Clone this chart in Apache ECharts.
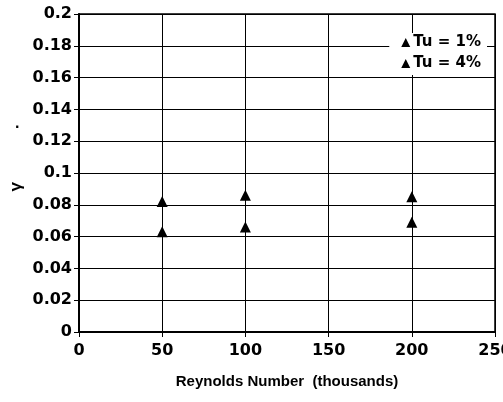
<!DOCTYPE html>
<html>
<head>
<meta charset="utf-8">
<script src="https://cdn.jsdelivr.net/npm/echarts@6/dist/echarts.min.js"></script>
<style>
html,body{margin:0;padding:0;background:#fff;}
#chart{width:503px;height:402px;}
</style>
</head>
<body>
<div id="chart"></div>
<script>
// Reynolds number (thousands) and intermittency values
const reynolds = [50, 100, 200];
const gammaTu1 = [0.063, 0.066, 0.069];
const gammaTu4 = [0.082, 0.086, 0.085];
const seriesNames = ['Tu = 1%', 'Tu = 4%'];

const tickFont = '"DejaVu Sans", sans-serif';
const titleFont = '"Liberation Sans", Arial, sans-serif';
const chart = echarts.init(document.getElementById('chart'));

chart.setOption({
  animation: false,
  backgroundColor: '#fff',
  grid: {
    left: 79, right: 8, top: 14, bottom: 70,
    containLabel: false,
    outerBoundsMode: 'none',
    show: true, borderColor: '#000', borderWidth: 1.5
  },
  legend: {
    data: [
      { name: seriesNames[0], itemStyle: { color: '#000', opacity: 1 } },
      { name: seriesNames[1], itemStyle: { color: '#000', opacity: 1 } }
    ],
    orient: 'vertical',
    right: 16, top: 33,
    backgroundColor: '#fff',
    padding: [2, 6, 4, 12],
    itemGap: 6,
    itemWidth: 9, itemHeight: 9,
    textStyle: { fontFamily: tickFont, fontWeight: 'bold', fontSize: 15, color: '#000', padding: [0, 0, 0, -2] }
  },
  xAxis: {
    type: 'value', min: 0, max: 250, interval: 50,
    name: 'Reynolds Number  (thousands)',
    nameLocation: 'middle', nameGap: 42,
    nameTextStyle: { fontFamily: titleFont, fontWeight: 'bold', fontSize: 15, color: '#000' },
    axisLine: { show: true, lineStyle: { color: '#000', width: 2 } },
    axisTick: { show: true, length: 5, lineStyle: { color: '#000' } },
    axisLabel: { fontFamily: tickFont, fontWeight: 'bold', fontSize: 16, color: '#000', margin: 11 },
    splitLine: { show: true, lineStyle: { color: '#000', width: 1 } }
  },
  yAxis: {
    type: 'value', min: 0, max: 0.2, interval: 0.02,
    axisLine: { show: true, lineStyle: { color: '#000', width: 2 } },
    axisTick: { show: true, length: 5, lineStyle: { color: '#000' } },
    axisLabel: {
      fontFamily: tickFont, fontWeight: 'bold', fontSize: 16, color: '#000', margin: 7,
      formatter: v => String(parseFloat(v.toFixed(2)))
    },
    splitLine: { show: true, lineStyle: { color: '#000', width: 1 } }
  },
  graphic: [
    {
      type: 'text', left: 8, top: 182, rotation: Math.PI / 2,
      style: { text: 'γ', font: 'bold 17px ' + titleFont, fill: '#000' }
    },
    {
      type: 'text', left: 15, top: 116,
      style: { text: '.', font: 'bold 16px ' + titleFont, fill: '#000' }
    }
  ],
  series: [
    {
      name: seriesNames[0], type: 'scatter', symbol: 'triangle', symbolSize: 11,
      itemStyle: { color: '#000', opacity: 1 },
      data: reynolds.map((r, i) => [r, gammaTu1[i]])
    },
    {
      name: seriesNames[1], type: 'scatter', symbol: 'triangle', symbolSize: 11,
      itemStyle: { color: '#000', opacity: 1 },
      data: reynolds.map((r, i) => [r, gammaTu4[i]])
    }
  ]
});
</script>
</body>
</html>
